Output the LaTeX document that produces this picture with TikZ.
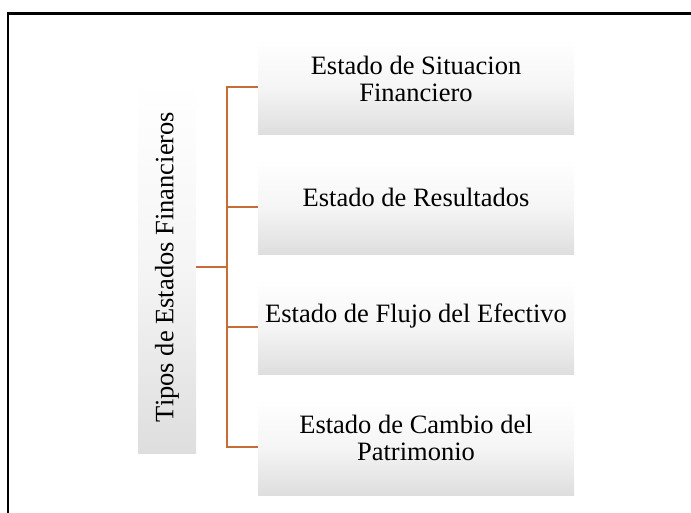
\documentclass[tikz,border=0pt]{standalone}
\usepackage{fontspec}
\setmainfont{Liberation Serif}
\usepackage{tikz}
\usetikzlibrary{calc,positioning}
\definecolor{branch}{RGB}{200, 108, 55}
\definecolor{boxgray}{RGB}{222, 222, 222}

\begin{document}
\begin{tikzpicture}[x=0.5pt, y=-0.5pt,
  box/.style={rectangle, minimum width=158pt, minimum height=48pt, inner sep=0pt,
    top color=white, bottom color=boxgray, middle color=boxgray!30, draw=none},
  boxtext/.style={align=center, font=\fontsize{13.25}{13.5}\selectfont, text=black},
  link/.style={draw=branch, line width=1pt}]
  \useasboundingbox (0,0) rectangle (691,513);

  % Outer frame (only top and left edges visible)
  \draw[line width=1.1pt] (8,513) -- (8,13.5) -- (691,13.5);

  % Main vertical box
  \node[box, minimum width=29pt, minimum height=186pt] (tipos) at (167,267) {};
  \node[boxtext, rotate=90] (tiposlbl) at (tipos.center) {Tipos de Estados Financieros};

  % Statement boxes
  \node[box] (sit) at (416,87) {};
  \node[box] (res) at (416,207) {};
  \node[box] (flu) at (416,327) {};
  \node[box] (cam) at (416,447) {};

  \node[boxtext] (sitlbl) at ($(sit.center)+(0,-8)$) {Estado de Situacion\\Financiero};
  \node[boxtext] (reslbl) at ($(res.center)+(0,-10)$) {Estado de Resultados};
  \node[boxtext] (flulbl) at ($(flu.center)+(0,-11)$) {Estado de Flujo del Efectivo};
  \node[boxtext] (camlbl) at ($(cam.center)+(0,-9)$) {Estado de Cambio del\\Patrimonio};

  % Bracket connectors
  \coordinate (J) at (227,267);
  \draw[link] (tipos.east) -- (J);
  \draw[link] (sit.west) -- (sit.west -| J) -- (cam.west -| J) -- (cam.west);
  \draw[link] (res.west) -- (res.west -| J);
  \draw[link] (flu.west) -- (flu.west -| J);
\end{tikzpicture}
\end{document}
